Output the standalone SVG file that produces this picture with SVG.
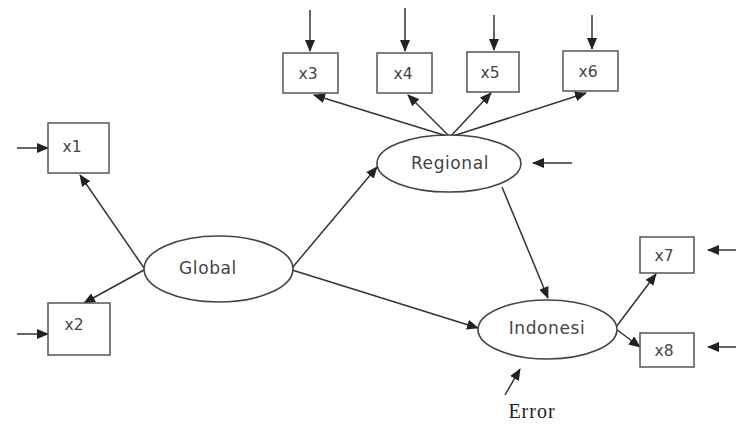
<svg xmlns="http://www.w3.org/2000/svg" width="736" height="424" viewBox="0 0 736 424">
<style>
.bg{fill:#ffffff}
.box{fill:#ffffff;stroke:#555;stroke-width:1.5}
.ell{fill:#ffffff;stroke:#444;stroke-width:1.6}
.lbl{font-family:"DejaVu Sans",sans-serif;font-size:15.5px;fill:#444;text-anchor:middle}
.big{font-family:"DejaVu Sans",sans-serif;font-size:17px;fill:#444;text-anchor:middle;letter-spacing:0.6px}
.err{font-family:"Liberation Serif",serif;font-size:20px;fill:#222;text-anchor:middle;letter-spacing:1px}
.c{stroke:#333;stroke-width:1.5;fill:none;marker-end:url(#ah)}
</style>
<defs>
<marker id="ah" markerWidth="12" markerHeight="10" refX="11" refY="5" orient="auto" markerUnits="userSpaceOnUse">
<path d="M0,0 L12,5 L0,10 Z" fill="#222"/>
</marker>
</defs>
<rect class="bg" x="0" y="0" width="736" height="424"/>
<g id="connectors">
<line class="c" x1="144" y1="268" x2="80" y2="175"/>
<line class="c" x1="144" y1="270" x2="84" y2="303"/>
<line class="c" x1="292" y1="268" x2="377" y2="167"/>
<line class="c" x1="292" y1="270" x2="478" y2="328"/>
<line class="c" x1="450" y1="137" x2="314" y2="95"/>
<line class="c" x1="450" y1="137" x2="408" y2="95"/>
<line class="c" x1="450" y1="137" x2="491" y2="93"/>
<line class="c" x1="450" y1="137" x2="586" y2="93"/>
<line class="c" x1="502" y1="187" x2="548" y2="298"/>
<line class="c" x1="616" y1="327" x2="656" y2="274"/>
<line class="c" x1="616" y1="329" x2="640" y2="347"/>
<line class="c" x1="310" y1="10" x2="310" y2="51"/>
<line class="c" x1="405" y1="8" x2="405" y2="51"/>
<line class="c" x1="494" y1="15" x2="494" y2="50"/>
<line class="c" x1="592" y1="15" x2="592" y2="49"/>
<line class="c" x1="17" y1="148" x2="48" y2="148"/>
<line class="c" x1="17" y1="334" x2="48" y2="334"/>
<line class="c" x1="572" y1="163" x2="533" y2="163"/>
<line class="c" x1="736" y1="250" x2="708" y2="250"/>
<line class="c" x1="736" y1="347" x2="708" y2="347"/>
<line class="c" x1="505" y1="395" x2="520" y2="369"/>
</g>
<g id="x1"><rect class="box" x="48" y="123" width="61" height="50"/><text class="lbl" x="72" y="152">x1</text></g>
<g id="x2"><rect class="box" x="48" y="303" width="62" height="52"/><text class="lbl" x="74" y="330">x2</text></g>
<g id="x3"><rect class="box" x="283" y="53" width="55" height="40"/><text class="lbl" x="308" y="79">x3</text></g>
<g id="x4"><rect class="box" x="377" y="53" width="55" height="40"/><text class="lbl" x="403" y="79">x4</text></g>
<g id="x5"><rect class="box" x="467" y="52" width="52" height="40"/><text class="lbl" x="490" y="78">x5</text></g>
<g id="x6"><rect class="box" x="563" y="51" width="55" height="40"/><text class="lbl" x="588" y="77">x6</text></g>
<g id="x7"><rect class="box" x="640" y="237" width="54" height="36"/><text class="lbl" x="664" y="261">x7</text></g>
<g id="x8"><rect class="box" x="640" y="333" width="54" height="34"/><text class="lbl" x="664" y="356">x8</text></g>
<g id="Global"><ellipse class="ell" cx="218.5" cy="269" rx="74.5" ry="33"/><text class="big" x="208" y="274">Global</text></g>
<g id="Regional"><ellipse class="ell" cx="449" cy="163.5" rx="72" ry="28.5"/><text class="big" x="450" y="169">Regional</text></g>
<g id="Indonesi"><ellipse class="ell" cx="547.5" cy="329.5" rx="69.5" ry="29.5"/><text class="big" x="547" y="334">Indonesi</text></g>
<g id="Error"><text class="err" x="532" y="418">Error</text></g>
</svg>
